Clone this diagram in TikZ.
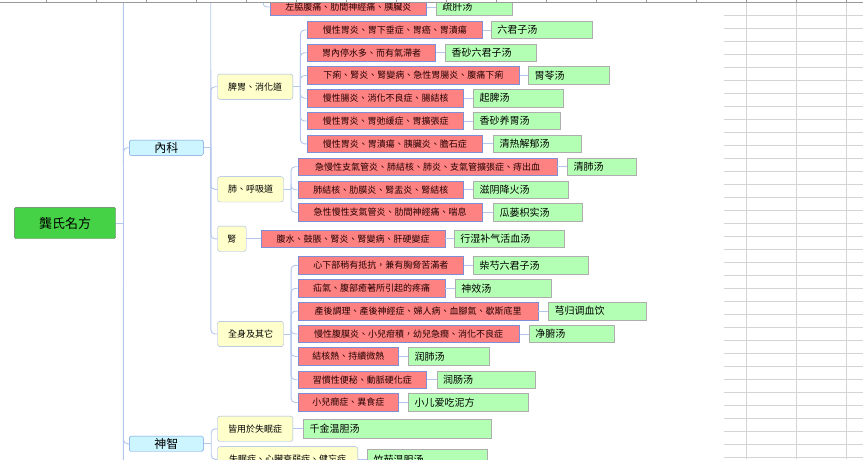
\documentclass[tikz,border=0pt]{standalone}
\usepackage{fontspec}
\newfontfamily\zh{Noto Sans CJK TC}
\definecolor{linkcol}{HTML}{B3C6EC}
\definecolor{symfill}{HTML}{FF8282}
\definecolor{symline}{HTML}{7E8FD6}
\definecolor{rxfill}{HTML}{B3FFB3}
\definecolor{rxline}{HTML}{ADADAD}
\definecolor{grpfill}{HTML}{FFFFCC}
\definecolor{grpline}{HTML}{9BB2E2}
\definecolor{brfill}{HTML}{CCF5FF}
\definecolor{brline}{HTML}{6F9BE0}
\definecolor{rootfill}{HTML}{46D246}
\definecolor{gridcol}{HTML}{D4D4D4}
\tikzset{
  link/.style={draw=linkcol, line width=0.9pt, rounded corners=4pt},
  rootbox/.style={draw=black!55, fill=rootfill, rounded corners=1.5pt, inner sep=0pt,
    minimum width=101.4pt, minimum height=31.4pt, font=\zh\fontsize{13}{15}\selectfont},
  branchbox/.style={draw=brline, fill=brfill, rounded corners=1.5pt, inner sep=0pt,
    minimum width=74pt, minimum height=15.3pt, font=\zh\fontsize{12}{14}\selectfont},
  groupbox/.style={draw=grpline, fill=grpfill, rounded corners=2.5pt, inner sep=0pt,
    minimum height=25.3pt, anchor=west, font=\zh\fontsize{9}{11}\selectfont},
  sympbox/.style={draw=symline, fill=symfill, inner sep=0pt, line width=0.7pt,
    minimum height=17.5pt, anchor=west, text=black!85!red, font=\zh\fontsize{9}{11}\selectfont},
  rxbox/.style={draw=rxline, fill=rxfill, inner xsep=6pt, inner ysep=0pt, line width=0.7pt,
    minimum height=17.5pt, anchor=west, align=left, font=\zh\fontsize{10}{12}\selectfont},
  gridline/.style={draw=gridcol, line width=0.6pt}
}
\begin{document}
\begin{tikzpicture}[x=1pt,y=-1pt]
  \useasboundingbox (0,0) rectangle (863,459);
  \clip (0,0) rectangle (863,459);
  % tabulka v pozadi
  \foreach \y in {15.3,28.3,...,458} \draw[gridline] (724,\y) -- (863,\y);
  \foreach \x in {746.7,796.7,846.7} \draw[gridline] (\x,2) -- (\x,459);
  % koren a vetvy
  \node[rootbox] (root) at (65,223) {龔氏名方};
  \node[branchbox] (neike) at (166.3,147.7) {內科};
  \node[branchbox] (shenzhi) at (166.3,443.8) {神智};
  % skupiny
  \node[groupbox, minimum width=75.4pt] (piwei) at (217.3,86.7) {脾胃、消化道};
  \node[groupbox, minimum width=66pt] (fei) at (217.3,189.3) {肺、呼吸道};
  \node[groupbox, minimum width=28.7pt] (shen) at (217.3,238.8) {腎};
  \node[groupbox, minimum width=66pt] (quanshen) at (217.3,334) {全身及其它};
  \node[groupbox, minimum width=75.4pt] (shimian) at (217.3,428.8) {皆用於失眠症};
  \node[groupbox, minimum width=140.4pt] (jianwang) at (217.3,459.3) {失眠症、心臟衰弱症、健忘症};
  % symptomy
  \node[sympbox, minimum width=156pt] (sym0) at (270,7) {左脇腹痛、肋間神經痛、胰臟炎};
  \node[sympbox, minimum width=175pt] (sym1) at (307,30) {慢性胃炎、胃下垂症、胃癌、胃潰瘍};
  \node[sympbox, minimum width=128.3pt] (sym2) at (307,52.7) {胃內停水多、而有氣滯者};
  \node[sympbox, minimum width=212pt] (sym3) at (307,75.5) {下痢、腎炎、腎變病、急性胃腸炎、腹痛下痢};
  \node[sympbox, minimum width=156.3pt] (sym4) at (307,98.2) {慢性腸炎、消化不良症、腸結核};
  \node[sympbox, minimum width=156.3pt] (sym5) at (307,121) {慢性胃炎、胃弛緩症、胃擴張症};
  \node[sympbox, minimum width=175pt] (sym6) at (307,143.8) {慢性胃炎、胃潰瘍、胰臟炎、膽石症};
  \node[sympbox, minimum width=259pt] (sym7) at (297.7,166.7) {急慢性支氣管炎、肺結核、肺炎、支氣管擴張症、痔出血};
  \node[sympbox, minimum width=165.6pt] (sym8) at (297.7,189.7) {肺結核、肋膜炎、腎盂炎、腎結核};
  \node[sympbox, minimum width=184.3pt] (sym9) at (297.7,212.3) {急性慢性支氣管炎、肋間神經痛、喘息};
  \node[sympbox, minimum width=183.7pt] (sym10) at (261,238.8) {腹水、鼓脹、腎炎、腎變病、肝硬變症};
  \node[sympbox, minimum width=165.6pt] (sym11) at (297.7,265.3) {心下部稍有抵抗，兼有胸脅苦滿者};
  \node[sympbox, minimum width=147pt] (sym12) at (297.7,288.3) {疝氣、腹部癒著所引起的疼痛};
  \node[sympbox, minimum width=240pt] (sym13) at (297.7,311.2) {產後調理、產後神經症、婦人病、血腳氣、歇斯底里};
  \node[sympbox, minimum width=221.3pt] (sym14) at (297.7,334) {慢性腹膜炎、小兒疳積，幼兒急癇、消化不良症};
  \node[sympbox, minimum width=100.6pt] (sym15) at (297.7,356.5) {結核熱、持續微熱};
  \node[sympbox, minimum width=128.6pt] (sym16) at (297.7,379.7) {習慣性便秘、動脈硬化症};
  \node[sympbox, minimum width=100.6pt] (sym17) at (297.7,402.5) {小兒癇症、異食症};
  % recepty
  \node[rxbox, text width=63.7pt] (rx0) at (436,7) {疏肝汤};
  \node[rxbox, text width=88.7pt] (rx1) at (491,30) {六君子汤};
  \node[rxbox, text width=78.7pt] (rx2) at (445.3,52.7) {香砂六君子汤};
  \node[rxbox, text width=69pt] (rx3) at (528.3,75.5) {胃苓汤};
  \node[rxbox, text width=78pt] (rx4) at (473.3,98.2) {起脾汤};
  \node[rxbox, text width=75pt] (rx5) at (473.3,121) {香砂养胃汤};
  \node[rxbox, text width=76pt] (rx6) at (493.3,143.8) {清热解郁汤};
  \node[rxbox, text width=56.7pt] (rx7) at (567.3,166.7) {清肺汤};
  \node[rxbox, text width=83pt] (rx8) at (473.3,189.7) {滋阴降火汤};
  \node[rxbox, text width=77pt] (rx9) at (493.3,212.3) {瓜蒌枳实汤};
  \node[rxbox, text width=98.3pt] (rx10) at (454,238.8) {行湿补气活血汤};
  \node[rxbox, text width=102.4pt] (rx11) at (473.3,265.3) {柴芍六君子汤};
  \node[rxbox, text width=83.7pt] (rx12) at (455,288.3) {神效汤};
  \node[rxbox, text width=85.4pt] (rx13) at (548.3,311.2) {芎归调血饮};
  \node[rxbox, text width=72.7pt] (rx14) at (529,334) {净腑汤};
  \node[rxbox, text width=69pt] (rx15) at (408.3,356.5) {润肺汤};
  \node[rxbox, text width=86.6pt] (rx16) at (436.7,379.7) {润肠汤};
  \node[rxbox, text width=107.4pt] (rx17) at (408.3,402.5) {小儿爱吃泥方};
  \node[rxbox, text width=175.4pt, minimum height=19pt] (rx18) at (303.3,428.8) {千金温胆汤};
  \node[rxbox, text width=107.4pt, minimum height=19pt] (rx19) at (367.3,459.3) {竹茹温胆汤};
  % spojnice zhora a zdola (mimo obrazok)
  \coordinate (rootup) at (123.3,-5);
  \coordinate (rootdn) at (123.3,470);
  \coordinate (neikeup) at (210.7,-5);
  \coordinate (sym0up) at (263,-12);
  % koren -> vetvy
  \draw[link] (root.east) -- ++(7.6,0) coordinate (rootj);
  \draw[link] (rootj) -- (rootup);
  \draw[link] (rootj) -- (rootdn);
  \draw[link] (rootj) |- (neike.west);
  \draw[link] (rootj) |- (shenzhi.west);
  % vnutorne lekarstvo -> skupiny
  \draw[link] (neike.east) -- ++(7.4,0) coordinate (neikej);
  \draw[link] (neikej) -- (neikeup);
  \draw[link] (neikej) |- (piwei.west);
  \draw[link] (neikej) |- (fei.west);
  \draw[link] (neikej) |- (shen.west);
  \draw[link] (neikej) |- (quanshen.west);
  \draw[link] (sym0up) |- (sym0.west);
  % psychika -> skupiny
  \draw[link] (shenzhi.east) -- ++(7.7,0) coordinate (shenzhij);
  \draw[link] (shenzhij) |- (shimian.west);
  \draw[link] (shenzhij) |- (jianwang.west);
  % skupiny -> symptomy
  \draw[link] (piwei.east) -- ++(7.3,0) coordinate (piweij);
  \draw[link] (piweij) |- (sym1.west);
  \draw[link] (piweij) |- (sym2.west);
  \draw[link] (piweij) |- (sym3.west);
  \draw[link] (piweij) |- (sym4.west);
  \draw[link] (piweij) |- (sym5.west);
  \draw[link] (piweij) |- (sym6.west);
  \draw[link] (fei.east) -- ++(7.4,0) coordinate (feij);
  \draw[link] (feij) |- (sym7.west);
  \draw[link] (feij) |- (sym8.west);
  \draw[link] (feij) |- (sym9.west);
  \draw[link] (shen.east) -- (sym10.west);
  \draw[link] (quanshen.east) -- ++(7.4,0) coordinate (quanshenj);
  \draw[link] (quanshenj) |- (sym11.west);
  \draw[link] (quanshenj) |- (sym12.west);
  \draw[link] (quanshenj) |- (sym13.west);
  \draw[link] (quanshenj) |- (sym14.west);
  \draw[link] (quanshenj) |- (sym15.west);
  \draw[link] (quanshenj) |- (sym16.west);
  \draw[link] (quanshenj) |- (sym17.west);
  \draw[link] (shimian.east) -- (rx18.west);
  \draw[link] (jianwang.east) -- (rx19.west);
  % symptomy -> recepty
  \draw[link] (sym0.east) -- (rx0.west);
  \draw[link] (sym1.east) -- (rx1.west);
  \draw[link] (sym2.east) -- (rx2.west);
  \draw[link] (sym3.east) -- (rx3.west);
  \draw[link] (sym4.east) -- (rx4.west);
  \draw[link] (sym5.east) -- (rx5.west);
  \draw[link] (sym6.east) -- (rx6.west);
  \draw[link] (sym7.east) -- (rx7.west);
  \draw[link] (sym8.east) -- (rx8.west);
  \draw[link] (sym9.east) -- (rx9.west);
  \draw[link] (sym10.east) -- (rx10.west);
  \draw[link] (sym11.east) -- (rx11.west);
  \draw[link] (sym12.east) -- (rx12.west);
  \draw[link] (sym13.east) -- (rx13.west);
  \draw[link] (sym14.east) -- (rx14.west);
  \draw[link] (sym15.east) -- (rx15.west);
  \draw[link] (sym16.east) -- (rx16.west);
  \draw[link] (sym17.east) -- (rx17.west);
  % hlavicka tabulky
  \fill[white] (0,0) rectangle (863,2);
  \foreach \x in {46.7,96.7,...,850} \draw[draw=black!40, line width=0.6pt] (\x,0) -- (\x,2);
  \draw[draw=black!40, line width=0.8pt] (0,2) -- (863,2);
\end{tikzpicture}
\end{document}
